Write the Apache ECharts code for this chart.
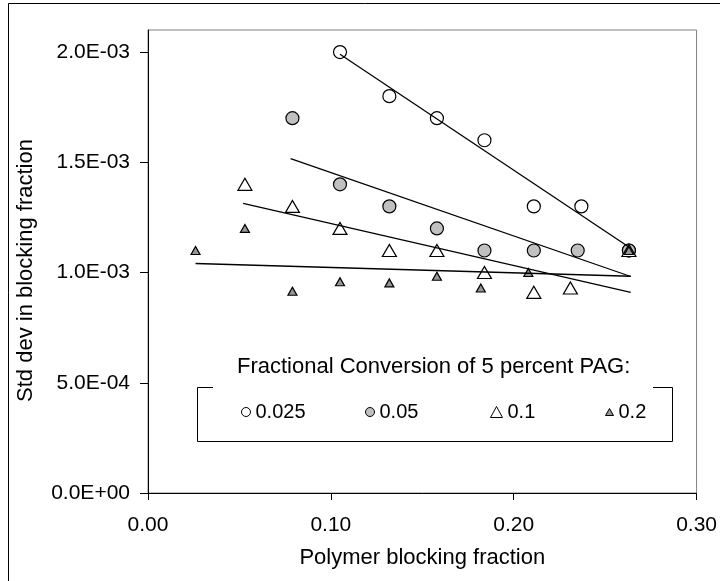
<!DOCTYPE html>
<html style="height: 100%">
<head>
    <meta charset="utf-8">
    <title>Std dev in blocking fraction</title>
    <script src="https://cdn.jsdelivr.net/npm/echarts@6/dist/echarts.min.js"></script>
</head>
<body style="height: 100%; margin: 0">
<div id="container" style="width: 720px; height: 581px"></div>
<script type="text/javascript">
    // series names (fractional conversion)
    var seriesNames = ['0.025', '0.05', '0.1', '0.2'];

    // points
    var x025 = [0.105, 0.132, 0.158, 0.184, 0.211, 0.237, 0.263];
    var y025 = [2.0e-3, 1.8e-3, 1.7e-3, 1.6e-3, 1.3e-3, 1.3e-3, 1.1e-3];
    var x005 = [0.079, 0.105, 0.132, 0.158, 0.184, 0.211, 0.235, 0.263];
    var y005 = [1.7e-3, 1.4e-3, 1.3e-3, 1.2e-3, 1.1e-3, 1.1e-3, 1.1e-3, 1.1e-3];
    var x01 = [0.053, 0.079, 0.105, 0.132, 0.158, 0.184, 0.211, 0.231, 0.263];
    var y01 = [1.4e-3, 1.3e-3, 1.2e-3, 1.1e-3, 1.1e-3, 1.0e-3, 0.91e-3, 0.93e-3, 1.1e-3];
    var x02 = [0.026, 0.053, 0.079, 0.105, 0.132, 0.158, 0.182, 0.208, 0.263];
    var y02 = [1.1e-3, 1.2e-3, 0.915e-3, 0.958e-3, 0.953e-3, 0.983e-3, 0.93e-3, 1.0e-3, 1.1e-3];

    // linear trend lines, end points
    var trend025 = [[0.105, 1.99e-3], [0.264, 1.11e-3]];
    var trend005 = [[0.078, 1.517e-3], [0.264, 0.982e-3]];
    var trend01 = [[0.052, 1.314e-3], [0.264, 0.910e-3]];
    var trend02 = [[0.026, 1.041e-3], [0.264, 0.983e-3]];

    // axis ticks
    var xTicks = [0, 0.1, 0.2, 0.3];
    var yTicks = [0, 0.5e-3, 1.0e-3, 1.5e-3, 2.0e-3];

    var zip = function (xs, ys) {
        return xs.map(function (x, i) { return [x, ys[i]]; });
    };

    var sciFormat = function (v) {
        if (v === 0) return '0.0E+00';
        var e = Math.floor(Math.log10(Math.abs(v)) + 1e-9);
        var m = v / Math.pow(10, e);
        var es = Math.abs(e) < 10 ? '0' + Math.abs(e) : '' + Math.abs(e);
        return m.toFixed(1) + 'E' + (e < 0 ? '-' : '+') + es;
    };

    var font = 'Liberation Sans, Arial, sans-serif';
    var markers = [
        {symbol: 'circle', size: 13, color: '#ffffff', legend: [9, 9], center: 245},
        {symbol: 'circle', size: 13, color: '#c0c0c0', legend: [9, 9], center: 369},
        {symbol: 'triangle', size: [14, 12], color: '#ffffff', legend: [12, 11], center: 496},
        {symbol: 'triangle', size: [9, 8], color: '#969696', legend: [8, 7], center: 609}
    ];
    var points = [zip(x025, y025), zip(x005, y005), zip(x01, y01), zip(x02, y02)];
    var trends = [trend025, trend005, trend01, trend02];

    var series = [];
    points.forEach(function (d, i) {
        series.push({
            name: seriesNames[i],
            type: 'scatter',
            symbol: markers[i].symbol,
            symbolSize: markers[i].size,
            itemStyle: {color: markers[i].color, borderColor: '#000', borderWidth: 1.2, opacity: 1},
            z: 2,
            data: d
        });
    });
    trends.forEach(function (d, i) {
        series.push({
            name: 'trend' + i,
            type: 'line',
            symbol: 'none',
            lineStyle: {color: '#000', width: 1.3},
            z: 3,
            silent: true,
            data: d
        });
    });

    // one legend per item, spread like the original
    var legends = seriesNames.map(function (n, i) {
        var m = markers[i];
        return {
            data: [n],
            left: Math.round(m.center - m.legend[0] / 2),
            top: 402,
            itemWidth: m.legend[0],
            itemHeight: m.legend[1],
            itemGap: 0,
            padding: 0,
            selectedMode: false,
            itemStyle: {borderWidth: 1},
            textStyle: {fontFamily: font, fontSize: 20, color: '#000'}
        };
    });

    var option = {
        backgroundColor: '#fff',
        animation: false,
        title: {
            text: 'Fractional Conversion of 5 percent PAG:',
            left: 237,
            top: 356,
            padding: 0,
            textStyle: {fontFamily: font, fontSize: 22, fontWeight: 'normal', color: '#000'}
        },
        legend: legends,
        grid: {
            left: 148, right: 17, top: 30, bottom: 88,
            show: true, borderColor: '#808080', borderWidth: 1
        },
        xAxis: {
            type: 'value',
            min: 0, max: 0.3, interval: 0.1,
            name: 'Polymer blocking fraction',
            nameLocation: 'middle',
            nameGap: 54,
            nameTextStyle: {fontFamily: font, fontSize: 22, color: '#000'},
            axisLine: {lineStyle: {color: '#000', width: 1}},
            axisTick: {show: true, length: 7, lineStyle: {color: '#000'}},
            axisLabel: {
                customValues: xTicks,
                margin: 22,
                fontFamily: font, fontSize: 21, color: '#000',
                formatter: function (v) { return v.toFixed(2); }
            },
            splitLine: {show: false}
        },
        yAxis: {
            type: 'value',
            min: 0, max: 2.1e-3, interval: 0.5e-3,
            name: 'Std dev in blocking fraction',
            nameLocation: 'middle',
            nameGap: 111,
            nameTextStyle: {fontFamily: font, fontSize: 22, color: '#000', padding: [0, 18, 0, 0]},
            axisLine: {show: true, lineStyle: {color: '#000', width: 1}},
            axisTick: {show: true, length: 8, customValues: yTicks, lineStyle: {color: '#000'}},
            axisLabel: {
                customValues: yTicks,
                margin: 18,
                fontFamily: font, fontSize: 21, color: '#000',
                formatter: sciFormat
            },
            splitLine: {show: false}
        },
        graphic: [
            {
                type: 'rect',
                shape: {x: 8.5, y: 3.5, width: 800, height: 800},
                style: {fill: 'none', stroke: '#000', lineWidth: 1},
                silent: true
            },
            {
                type: 'polyline',
                shape: {points: [[213, 387.5], [197.5, 387.5], [197.5, 441.5], [672.5, 441.5], [672.5, 387.5], [653, 387.5]]},
                style: {fill: 'none', stroke: '#000', lineWidth: 1},
                silent: true
            }
        ],
        series: series
    };

    var myChart = echarts.init(document.getElementById('container'));
    myChart.setOption(option);
</script>
</body>
</html>
